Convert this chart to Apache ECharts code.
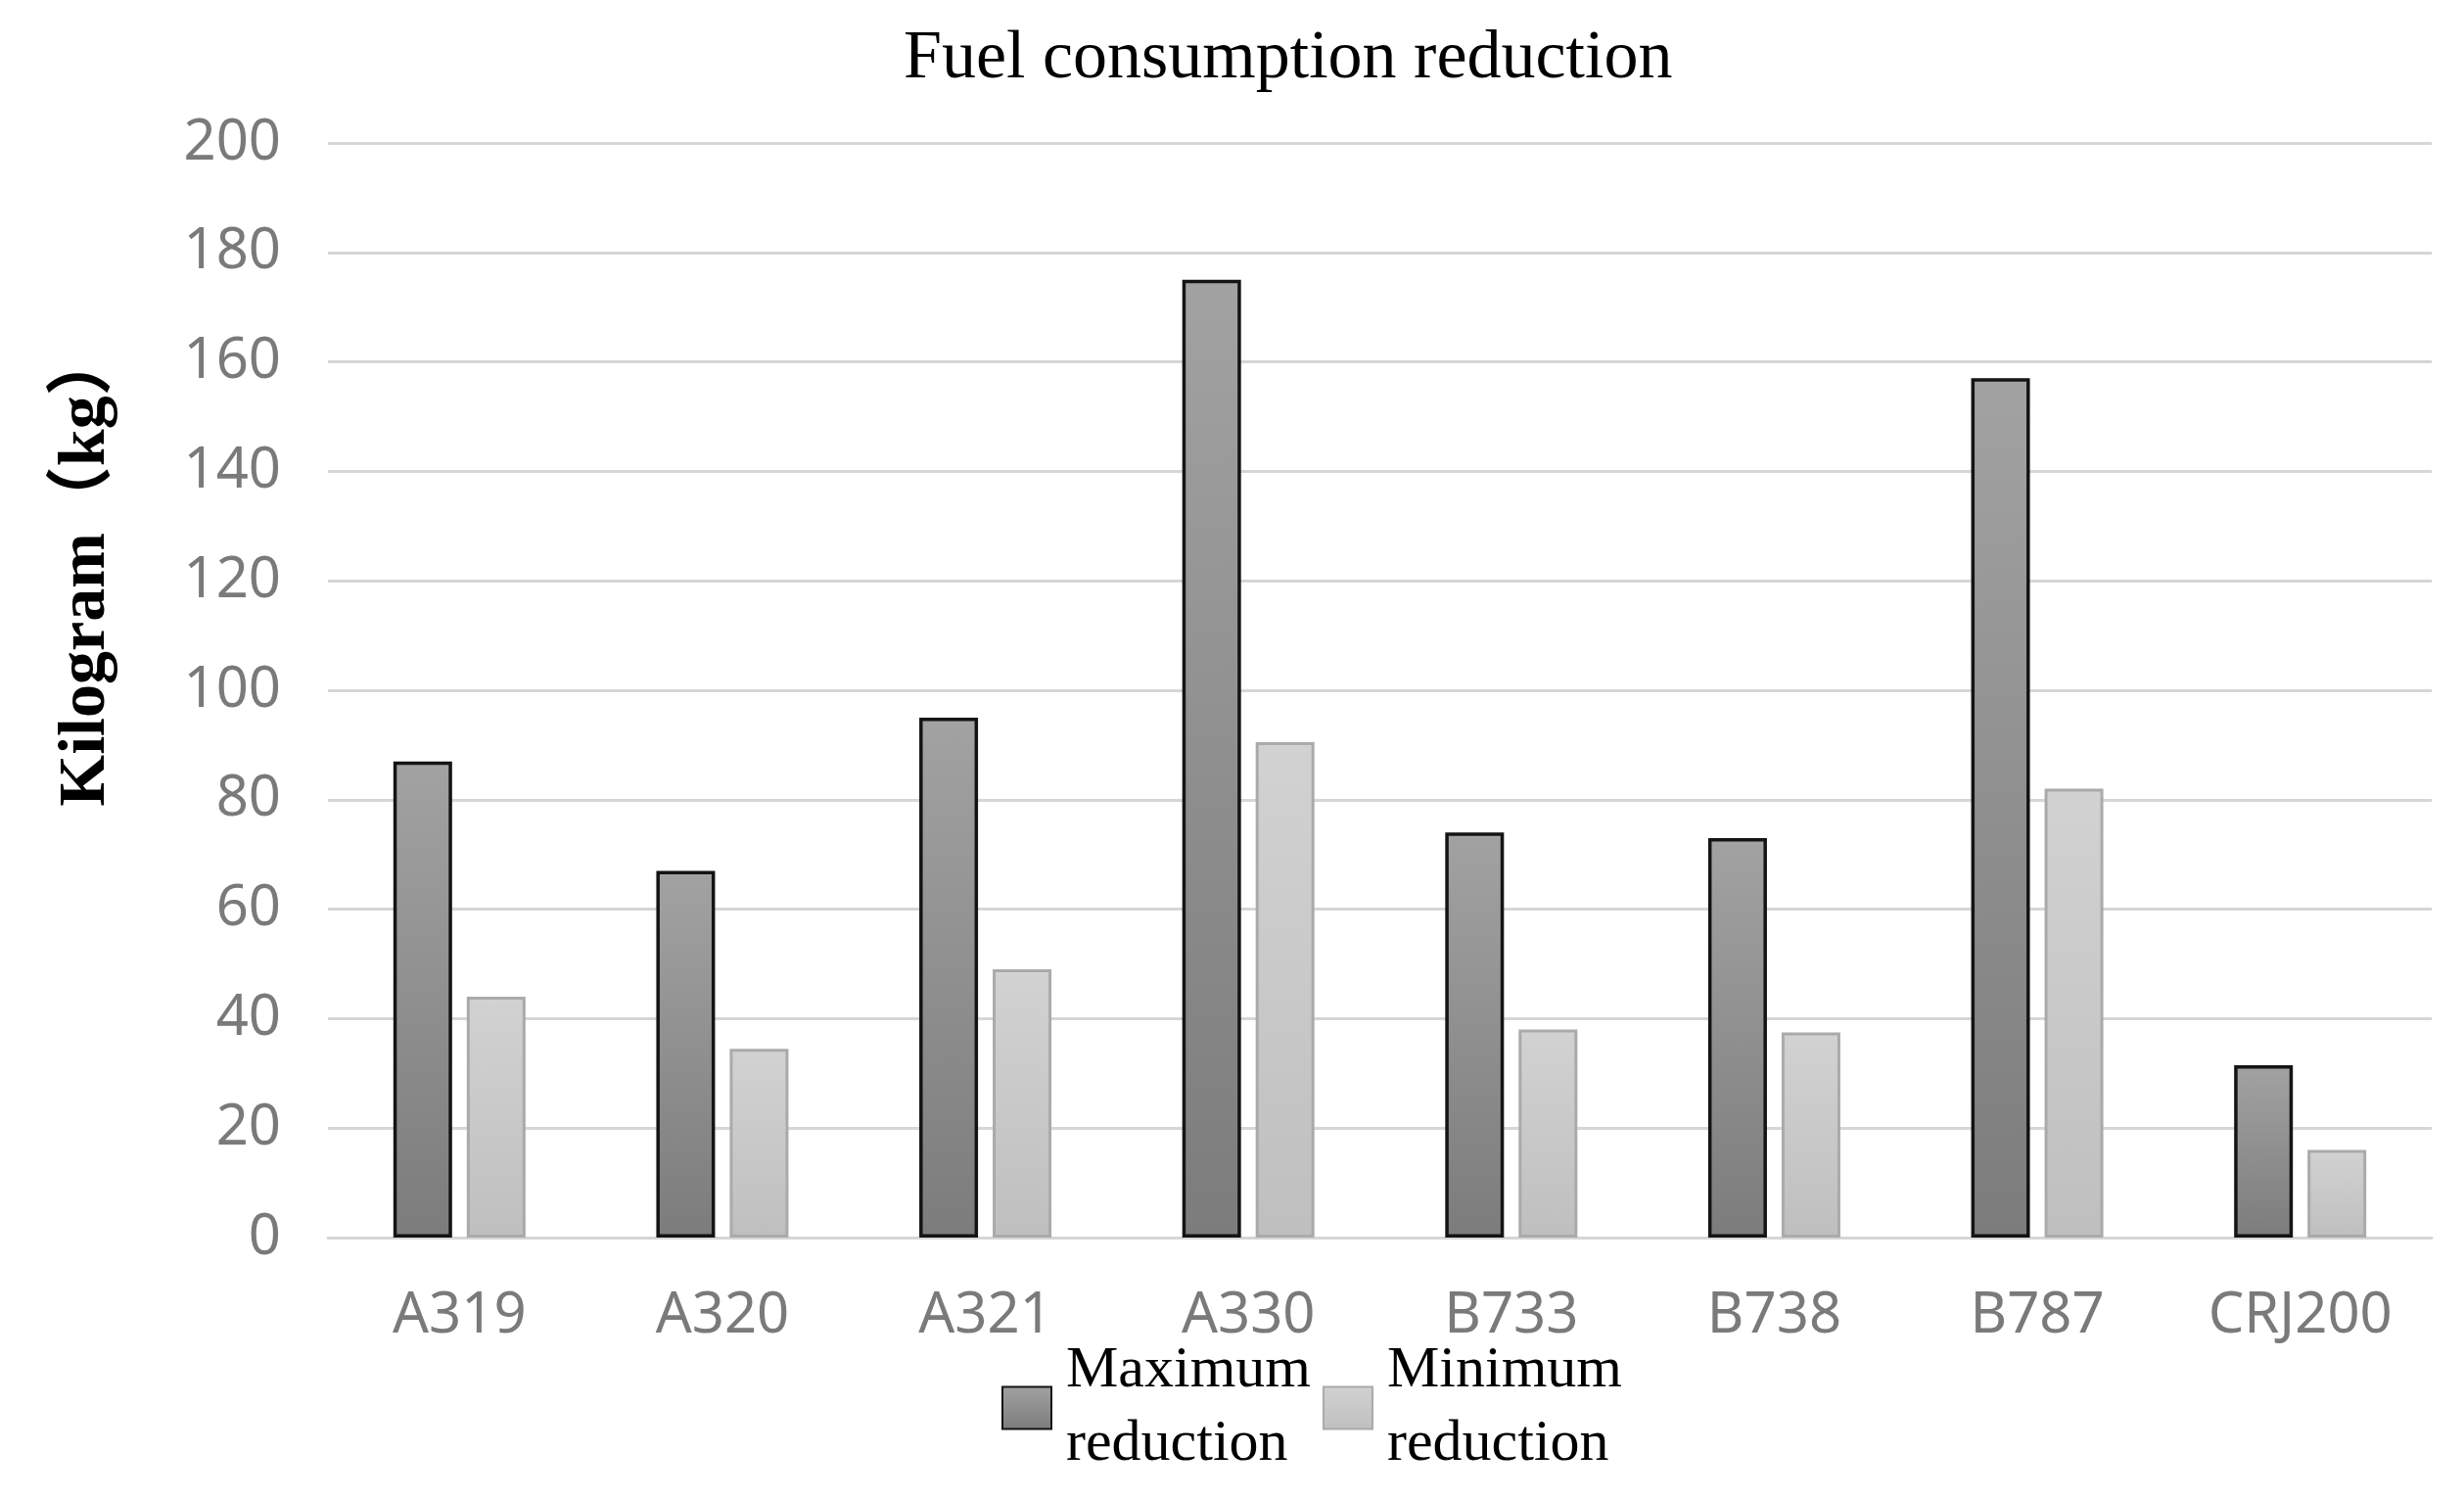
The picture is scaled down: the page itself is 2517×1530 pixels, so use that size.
<!DOCTYPE html>
<html>
<head>
<meta charset="utf-8">
<script src="https://cdn.jsdelivr.net/npm/echarts@6/dist/echarts.min.js"></script>
<style>
html,body{margin:0;padding:0;background:#fff;}
#chart{width:2517px;height:1530px;}
</style>
</head>
<body>
<div id="chart"></div>
<script>
const categories = ['A319','A320','A321','A330','B733','B738','B787','CRJ200'];
const maxReduction = [87, 67, 95, 175, 74, 73, 157, 31.5];
const minReduction = [44, 34.5, 49, 90.5, 38, 37.5, 82, 16];
const seriesNames = ['Maximum\nreduction', 'Minimum\nreduction'];
const yTicks = {min: 0, max: 200, interval: 20};

const chart = echarts.init(document.getElementById('chart'));
const grad = (a, b) => new echarts.graphic.LinearGradient(0, 0, 0, 1, [{offset: 0, color: a}, {offset: 1, color: b}]);

chart.setOption({
  backgroundColor: '#ffffff',
  animation: false,
  title: {
    text: 'Fuel consumption reduction',
    left: 918, top: 21,
    textStyle: {fontFamily: 'Liberation Serif', fontSize: 70, fontWeight: 'normal', color: '#000'}
  },
  legend: {
    left: 1018, top: 1358,
    itemWidth: 50, itemHeight: 43, itemGap: 12,
    icon: 'rect',
    textStyle: {fontFamily: 'Liberation Serif', fontSize: 60, lineHeight: 75, color: '#000', padding: [0, 0, 0, 10]},
    data: seriesNames
  },
  grid: {left: 335, right: 33, top: 146, bottom: 266, containLabel: false},
  xAxis: {
    type: 'category',
    data: categories,
    axisLine: {show: true, lineStyle: {color: '#d6d6d6', width: 3}},
    axisTick: {show: false},
    axisLabel: {margin: 51, fontFamily: 'Noto Sans', fontSize: 58, color: '#7a7a7a'}
  },
  yAxis: {
    type: 'value',
    min: yTicks.min, max: yTicks.max, interval: yTicks.interval,
    axisLine: {show: false},
    axisTick: {show: false},
    axisLabel: {margin: 48, fontFamily: 'Noto Sans', fontSize: 58, color: '#7a7a7a'},
    splitLine: {lineStyle: {color: '#d6d6d6', width: 3}}
  },
  graphic: [{
    type: 'text',
    x: 88, y: 580,
    rotation: Math.PI / 2,
    style: {
      text: 'Kilogram（kg）',
      font: 'bold 68px "Liberation Serif", "Noto Sans CJK SC"',
      fill: '#000',
      align: 'center',
      verticalAlign: 'middle'
    }
  }],
  series: [{
    name: seriesNames[0],
    type: 'bar',
    data: maxReduction,
    barWidth: 60,
    barGap: '25%',
    itemStyle: {color: grad('#a2a2a2', '#7c7c7c'), borderColor: '#141414', borderWidth: 3.5}
  }, {
    name: seriesNames[1],
    type: 'bar',
    data: minReduction,
    barWidth: 60,
    itemStyle: {color: grad('#d2d2d2', '#bfbfbf'), borderColor: '#aaaaaa', borderWidth: 3}
  }]
});
</script>
</body>
</html>
